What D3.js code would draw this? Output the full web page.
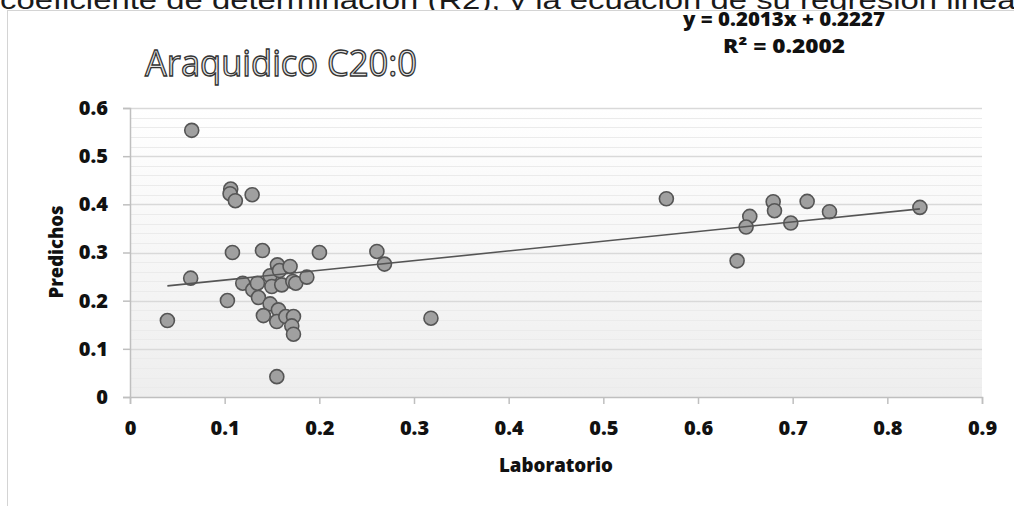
<!DOCTYPE html>
<html><head><meta charset="utf-8">
<script src="https://cdn.jsdelivr.net/npm/d3@7"></script>
<style>html,body{margin:0;padding:0;background:#fff;overflow:hidden}</style>
</head><body>
<svg id="c" width="1014" height="506"></svg>
<script>
// ---- data ----
const laboratorio = [0.0395, 0.0652, 0.0641, 0.1029, 0.1064, 0.1057, 0.1113, 0.1290, 0.1082, 0.1399, 0.2001,
  0.1191, 0.1297, 0.1346, 0.1357, 0.1480, 0.1557, 0.1579, 0.1691, 0.1498, 0.1603, 0.1720, 0.1751, 0.1868,
  0.1480, 0.1568, 0.1409, 0.1550, 0.1646, 0.1727, 0.1709, 0.1727, 0.1551,
  0.2608, 0.2688, 0.3179,
  0.5666, 0.6547, 0.6508, 0.6413, 0.6794, 0.6808, 0.6980, 0.7153, 0.7389, 0.8344];
const predichos = [0.1587, 0.5536, 0.2467, 0.2003, 0.4318, 0.4220, 0.4075, 0.4200, 0.3000, 0.3040, 0.3000,
  0.2363, 0.2225, 0.2363, 0.2065, 0.2516, 0.2744, 0.2626, 0.2710, 0.2294, 0.2328, 0.2398, 0.2363, 0.2488,
  0.1933, 0.1809, 0.1690, 0.1566, 0.1670, 0.1670, 0.1476, 0.1303, 0.0422,
  0.3021, 0.2759, 0.1636,
  0.4116, 0.3749, 0.3528, 0.2827, 0.4054, 0.3867, 0.3611, 0.4061, 0.3846, 0.3936];
const xTicks = [0, 0.1, 0.2, 0.3, 0.4, 0.5, 0.6, 0.7, 0.8, 0.9];
const yTicks = [0, 0.1, 0.2, 0.3, 0.4, 0.5, 0.6];
const trendSlope = 0.2013;
const trendIntercept = 0.2227;
const equationLines = ["y = 0.2013x + 0.2227", "R² = 0.2002"];
const titleText = "Araquidico C20:0";
const xTitle = "Laboratorio";
const yTitle = "Predichos";
const headerText = "coeficiente de determinación (R2), y la ecuación de su regresión lineal.";

// ---- layout ----
const svg = d3.select("#c");
const L = 130, R = 982, T = 108, B = 397;
const x = d3.scaleLinear().domain([0, 0.9]).range([L, R]);
const y = d3.scaleLinear().domain([0, 0.6]).range([B, T]);
const bold = "'Open Sans', 'DejaVu Sans', sans-serif";

// header text (document text behind the chart, cropped)
svg.append("text").attr("x", 0).attr("y", 9)
  .attr("font-family", "'Liberation Sans', Arial, sans-serif").attr("font-size", 26)
  .attr("fill", "#1a1a1a").attr("textLength", 1032).attr("lengthAdjust", "spacingAndGlyphs")
  .text(headerText);

// chart area (white, covers header descenders) + border
svg.append("rect").attr("x", 7.5).attr("y", 10.5).attr("width", 1010).attr("height", 500)
  .attr("fill", "#fff").attr("stroke", "#d4d4d4").attr("stroke-width", 1);

// plot background gradient
const defs = svg.append("defs");
const g = defs.append("linearGradient").attr("id", "bg").attr("x1", 0).attr("y1", 0).attr("x2", 0).attr("y2", 1);
g.append("stop").attr("offset", "0%").attr("stop-color", "#ffffff");
g.append("stop").attr("offset", "100%").attr("stop-color", "#eeeeee");
svg.append("rect").attr("x", L).attr("y", T).attr("width", R - L).attr("height", B - T).attr("fill", "url(#bg)");

// minor gridlines
const minor = y.ticks(30).filter(v => !yTicks.some(t => Math.abs(t - v) < 1e-9));
svg.append("g").selectAll("line").data(minor).join("line")
  .attr("x1", L).attr("x2", R).attr("y1", d => Math.round(y(d)) + 0.5).attr("y2", d => Math.round(y(d)) + 0.5)
  .attr("stroke", "#ebebeb").attr("stroke-width", 1);
// major gridlines
svg.append("g").selectAll("line").data(yTicks.filter(v => v > 0)).join("line")
  .attr("x1", L).attr("x2", R).attr("y1", d => Math.round(y(d)) + 0.5).attr("y2", d => Math.round(y(d)) + 0.5)
  .attr("stroke", "#d9d9d9").attr("stroke-width", 1.5);

// axes
const fmt = d => d === 0 ? "0" : d3.format(".1f")(d);
const yAx = svg.append("g").attr("transform", `translate(${L},0)`)
  .call(d3.axisLeft(y).tickValues(yTicks).tickFormat(fmt).tickSize(7).tickPadding(15));
const xAx = svg.append("g").attr("transform", `translate(0,${B})`)
  .call(d3.axisBottom(x).tickValues(xTicks).tickFormat(fmt).tickSize(7).tickPadding(17));
[yAx, xAx].forEach(a => {
  a.select(".domain").attr("stroke", "#bfbfbf").attr("stroke-width", 1.5);
  a.selectAll(".tick line").attr("stroke", "#bfbfbf").attr("stroke-width", 1.5);
  a.selectAll(".tick text").attr("font-family", bold).attr("font-weight", 800)
    .attr("font-size", 20).attr("fill", "#111");
});

// axis titles
svg.append("text").attr("x", (L + R) / 2).attr("y", 472).attr("text-anchor", "middle")
  .attr("font-family", bold).attr("font-weight", 800).attr("font-size", 19).attr("fill", "#111")
  .attr("textLength", 114).attr("lengthAdjust", "spacingAndGlyphs").text(xTitle);
svg.append("text").attr("transform", "translate(63,252) rotate(-90)").attr("text-anchor", "middle")
  .attr("font-family", bold).attr("font-weight", 800).attr("font-size", 19).attr("fill", "#111")
  .attr("textLength", 93).attr("lengthAdjust", "spacingAndGlyphs").text(yTitle);

// title
svg.append("text").attr("x", 145).attr("y", 76)
  .attr("font-family", "'Open Sans', sans-serif").attr("font-size", 36)
  .attr("fill", "#e4e4e4").attr("stroke", "#333").attr("stroke-width", 1.3)
  .attr("textLength", 272).attr("lengthAdjust", "spacingAndGlyphs").text(titleText);

// equation
svg.append("text").attr("x", 784).attr("y", 26).attr("text-anchor", "middle")
  .attr("font-family", bold).attr("font-weight", 800).attr("font-size", 19).attr("fill", "#111")
  .attr("textLength", 202).attr("lengthAdjust", "spacingAndGlyphs").text(equationLines[0]);
svg.append("text").attr("x", 784).attr("y", 53).attr("text-anchor", "middle")
  .attr("font-family", bold).attr("font-weight", 800).attr("font-size", 19).attr("fill", "#111")
  .attr("textLength", 122).attr("lengthAdjust", "spacingAndGlyphs").text(equationLines[1]);

// points
const pts = laboratorio.map((v, i) => [v, predichos[i]]);
svg.append("g").selectAll("circle").data(pts).join("circle")
  .attr("cx", d => x(d[0])).attr("cy", d => y(d[1])).attr("r", 7)
  .attr("fill", "#a0a0a0").attr("stroke", "#555").attr("stroke-width", 1.6);

// trendline
const xr = d3.extent(laboratorio);
svg.append("line")
  .attr("x1", x(xr[0])).attr("y1", y(trendSlope * xr[0] + trendIntercept))
  .attr("x2", x(xr[1])).attr("y2", y(trendSlope * xr[1] + trendIntercept))
  .attr("stroke", "#555").attr("stroke-width", 1.6);
</script>
</body></html>
